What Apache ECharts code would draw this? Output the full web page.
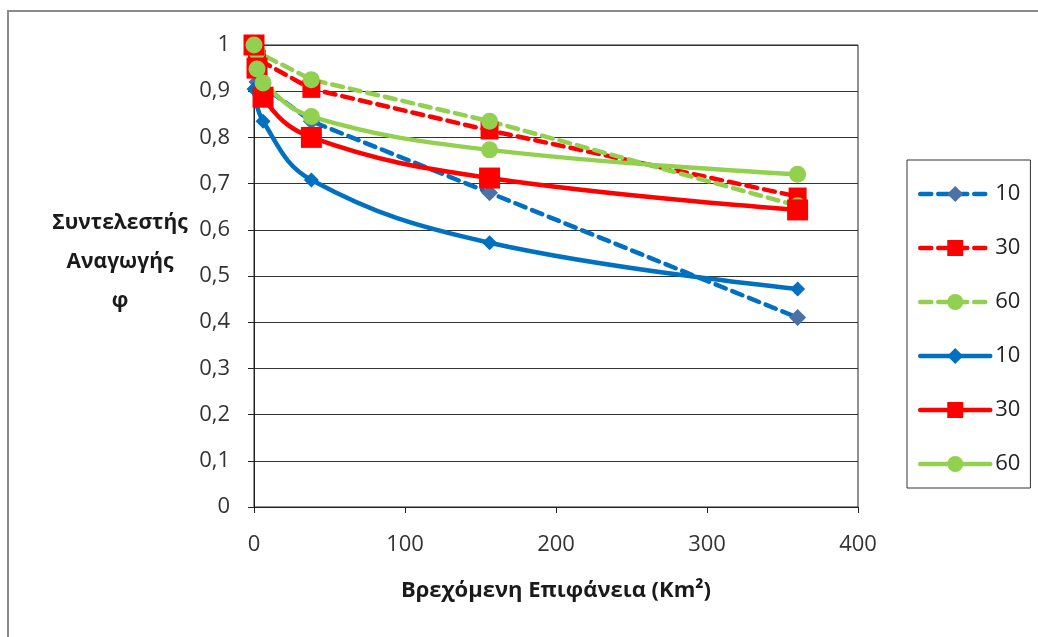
<!DOCTYPE html>
<html>
<head>
<meta charset="utf-8">
<script src="https://cdn.jsdelivr.net/npm/echarts@6/dist/echarts.min.js"></script>
<style>
html,body{margin:0;padding:0;background:#fff;}
#chart{width:1038px;height:637px;}
</style>
</head>
<body>
<div id="chart"></div>
<script>
// Data (x = area km², y = reduction factor φ)
const xDashed = [0, 2, 38, 156, 360];
const dashed10 = [1.0, 0.92, 0.835, 0.68, 0.41];
const dashed30 = [1.0, 0.97, 0.905, 0.815, 0.672];
const dashed60 = [1.0, 0.985, 0.925, 0.835, 0.652];

const xSolid10 = [0, 6, 38, 156, 360];
const solid10 = [0.905, 0.835, 0.708, 0.572, 0.472];
const xSolid = [0, 2, 6, 38, 156, 360];
const solid30 = [1.0, 0.95, 0.887, 0.80, 0.712, 0.643];
const solid60 = [1.0, 0.948, 0.918, 0.845, 0.773, 0.72];

const xTicks = [0, 100, 200, 300, 400];
const seriesNames = ['10', '30', '60', '10', '30', '60'];

const pairs = (xs, ys) => xs.map((x, i) => [x, ys[i]]);

const blue = '#0070C0', blueMark = '#4A72A6', red = '#FF0000', green = '#92D050';
const font = 'Open Sans, Noto Sans, sans-serif';

function mk(id, xs, ys, color, markColor, symbol, size, dashed) {
  return {
    id: id, name: id, type: 'line', data: pairs(xs, ys),
    smooth: dashed ? false : 0.4,
    symbol: symbol, symbolSize: size, showSymbol: true,
    lineStyle: { color: color, width: 4.5, type: dashed ? [11, 7] : 'solid', cap: 'round' },
    itemStyle: { color: markColor, borderWidth: 0 },
    emphasis: { disabled: true },
    animation: false
  };
}

const chart = echarts.init(document.getElementById('chart'));
chart.setOption({
  animation: false,
  graphic: [{
    type: 'rect', shape: { x: 8, y: 11, width: 1050, height: 650 },
    style: { fill: 'none', stroke: '#8a8a8a', lineWidth: 2 }, silent: true, z: -10
  }],
  title: {
    text: 'Συντελεστής\nΑναγωγής\nφ',
    left: 115, top: 199, textAlign: 'center',
    textStyle: { fontFamily: font, fontSize: 21, fontWeight: 'bold', color: '#1a1a1a', lineHeight: 39, align: 'center' }
  },
  grid: { left: 254, right: 180, top: 45, bottom: 130, show: true, borderColor: '#222', borderWidth: 1, backgroundColor: 'transparent' },
  xAxis: {
    type: 'value', min: 0, max: 400, interval: 100,
    name: 'Βρεχόμενη Επιφάνεια (Km²)', nameLocation: 'middle', nameGap: 73,
    nameTextStyle: { fontFamily: font, fontSize: 22, fontWeight: 'bold', color: '#1a1a1a' },
    axisLine: { show: true, lineStyle: { color: '#222', width: 1 } },
    axisTick: { show: true, length: 6, inside: false, lineStyle: { color: '#222' } },
    splitLine: { show: false },
    axisLabel: { fontFamily: font, fontSize: 22, color: '#333', margin: 27,
      customValues: xTicks, formatter: v => String(v) }
  },
  yAxis: {
    type: 'value', min: 0, max: 1, interval: 0.1,
    axisLine: { show: true, lineStyle: { color: '#222', width: 1 } },
    axisTick: { show: true, length: 6, lineStyle: { color: '#222' } },
    splitLine: { show: true, lineStyle: { color: '#333', width: 1 } },
    axisLabel: { fontFamily: font, fontSize: 22, color: '#333', margin: 24,
      formatter: v => (Math.round(v * 10) / 10).toString().replace('.', ',') }
  },
  legend: {
    orient: 'vertical', left: 907, top: 160,
    padding: [23, 10, 13, 11], itemGap: 32, itemWidth: 70, itemHeight: 20,
    borderColor: '#333', borderWidth: 1,
    lineStyle: { width: 4.5 },
    textStyle: { fontFamily: font, fontSize: 22, color: '#222' },
    formatter: n => n.slice(1),
    data: ['d10', 'd30', 'd60', 's10', 's30', 's60']
  },
  series: [
    mk('d10', xDashed, dashed10, blue, blueMark, 'diamond', 17, true),
    mk('d30', xDashed, dashed30, red, red, 'rect', 18, true),
    mk('d60', xDashed, dashed60, green, green, 'circle', 17, true),
    mk('s10', xSolid10, solid10, blue, blue, 'diamond', 15, false),
    mk('s30', xSolid, solid30, red, red, 'rect', 21, false),
    mk('s60', xSolid, solid60, green, green, 'circle', 17, false)
  ]
});
</script>
</body>
</html>
